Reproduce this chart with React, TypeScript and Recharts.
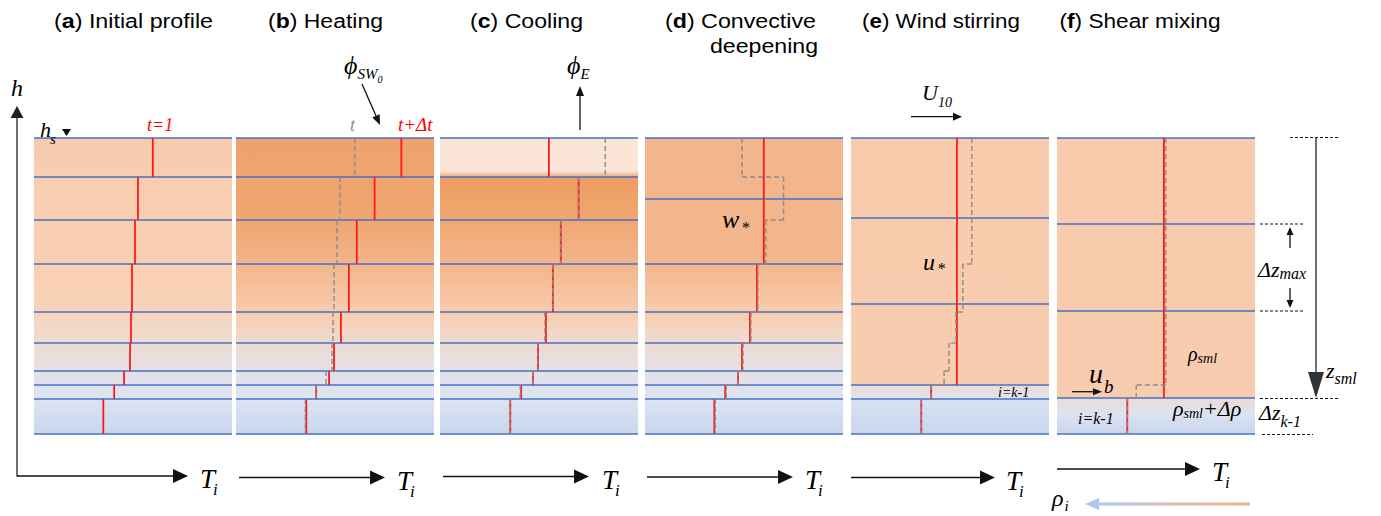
import React from 'react';
import { ComposedChart, XAxis, YAxis, ReferenceArea, ReferenceLine } from 'recharts';

// layer interfaces, depth below surface (m)
const BOUNDS_ABC = [0, 3.9, 8.2, 12.6, 17.4, 20.5, 23.3, 24.7, 26.1, 29.6];
const BOUNDS_D = [0, 6.1, 12.6, 17.4, 20.5, 23.3, 24.7, 26.1, 29.6];
const BOUNDS_E = [0, 8.0, 16.6, 24.7, 26.1, 29.6];
const BOUNDS_F = [0, 8.6, 17.3, 26.0, 29.6];

// layer temperatures, surface layer first
const TEMP_A = [12.0, 10.5, 10.2, 9.9, 9.8, 9.7, 9.1, 8.1, 7.0];
const TEMP_B = [16.7, 14.0, 12.2, 11.4, 10.6, 9.9, 9.4, 8.1, 7.1];
const TEMP_C = [11.0, 14.0, 12.2, 11.4, 10.7, 9.9, 9.4, 8.2, 7.1];
const TEMP_D = [12.0, 12.0, 11.3, 10.6, 9.8, 9.4, 8.1, 7.0];
const TEMP_E = [10.7, 10.7, 10.7, 8.1, 7.1];
const TEMP_F = [10.8, 10.8, 10.8, 7.1];

// profile of the previous step (grey dashed)
const PREV_D = [9.8, 14.0, 12.2, 11.4, 10.7, 9.9, 9.4, 8.2, 7.1];
const PREV_E_BOUNDS = [0, 12.6, 17.4, 20.5, 23.3, 24.7, 26.1, 29.6];
const PREV_E = [12.2, 11.3, 10.6, 9.9, 9.4, 8.1, 7.1];
const PREV_F_BOUNDS = [0, 24.7, 26.0, 29.6];
const PREV_F = [11.0, 8.0, 7.1];

const LOWER = [[0.69, '#EEDBD2'], [0.79, '#E4E0E6'], [0.88, '#DCE4F2'], [1, '#C8D6EE']];

const PANELS = [
  { key: 'a', left: 34, bounds: BOUNDS_ABC, temps: TEMP_A, prev: null, prevBounds: null, stepped: false,
    stops: [[0, '#F8CBAD'], [0.55, '#F9D1B6'], ...LOWER] },
  { key: 'b', left: 236, bounds: BOUNDS_ABC, temps: TEMP_B, prev: TEMP_A, prevBounds: BOUNDS_ABC, stepped: false,
    stops: [[0, '#EFA26B'], [0.28, '#F0A670'], [0.43, '#F3B68C'], [0.59, '#F8CCAE'], ...LOWER] },
  { key: 'c', left: 440, bounds: BOUNDS_ABC, temps: TEMP_C, prev: TEMP_B, prevBounds: BOUNDS_ABC, stepped: false,
    stops: [[0, '#EE9C62'], [0.13, '#EE9C62'], [0.28, '#F0A771'], [0.43, '#F3B68C'], [0.59, '#F8CCAE'], ...LOWER] },
  { key: 'd', left: 645, bounds: BOUNDS_D, temps: TEMP_D, prev: PREV_D, prevBounds: BOUNDS_ABC, stepped: true,
    stops: [[0, '#F3B58B'], [0.426, '#F3B68C'], [0.59, '#F8CCAE'], ...LOWER] },
  { key: 'e', left: 851, bounds: BOUNDS_E, temps: TEMP_E, prev: PREV_E, prevBounds: PREV_E_BOUNDS, stepped: true,
    stops: [[0, '#F8CBAD'], [0.83, '#F8CCAE'], [0.836, '#EEDAD3'], [0.878, '#DFE3EF'], [0.884, '#D9E2F3'], [1, '#C8D5EE']] },
  { key: 'f', left: 1057, bounds: BOUNDS_F, temps: TEMP_F, prev: PREV_F, prevBounds: PREV_F_BOUNDS, stepped: true,
    stops: [[0, '#F8CBAD'], [0.874, '#F8CCAE'], [0.88, '#EBDAD6'], [0.93, '#DCE3F2'], [1, '#C9D6EE']] },
];

const Panel = ({ p }: any) => {
  const bottom = p.bounds[p.bounds.length - 1];
  const prevSegs: any[] = [];
  if (p.prev) {
    p.prev.forEach((t: number, i: number) => {
      prevSegs.push([{ x: t, y: p.prevBounds[i] }, { x: t, y: p.prevBounds[i + 1] }]);
      if (p.stepped && i < p.prev.length - 1) {
        prevSegs.push([{ x: t, y: p.prevBounds[i + 1] }, { x: p.prev[i + 1], y: p.prevBounds[i + 1] }]);
      }
    });
  }
  return (
    <div style={{ position: 'absolute', left: p.left, top: 136 }}>
      <ComposedChart width={198} height={302} margin={{ top: 2, right: 0, bottom: 0, left: 0 }} data={[{ t: 0, z: 0 }]}>
        <defs>
          <linearGradient id={`bg-${p.key}`} x1="0" y1="0" x2="0" y2="1">
            {p.stops.map(([o, c]: any) => <stop key={o} offset={o} stopColor={c} />)}
          </linearGradient>
          <linearGradient id="shade-c" x1="0" y1="0" x2="0" y2="1">
            <stop offset={0} stopColor="#FBE5D6" />
            <stop offset={1} stopColor="#E9A77C" />
          </linearGradient>
        </defs>
        <XAxis type="number" dataKey="t" domain={[0, 20]} hide allowDataOverflow />
        <YAxis type="number" dataKey="z" domain={[0, 30]} reversed hide allowDataOverflow />
        <ReferenceArea y1={0} y2={bottom} fill={`url(#bg-${p.key})`} fillOpacity={1} stroke="none" />
        {p.key === 'c' && <ReferenceArea y1={0} y2={3.3} fill="#FBE5D6" fillOpacity={1} stroke="none" />}
        {p.key === 'c' && <ReferenceArea y1={3.3} y2={3.9} fill="url(#shade-c)" fillOpacity={1} stroke="none" />}
        {p.bounds.map((b: number) => (
          <ReferenceLine key={`b${b}`} y={b} stroke="#4472C4" strokeWidth={1.6} />
        ))}
        {p.temps.map((t: number, i: number) => (
          <ReferenceLine key={`r${i}`} segment={[{ x: t, y: p.bounds[i] }, { x: t, y: p.bounds[i + 1] }]}
            stroke="#FF1A1A" strokeWidth={1.8} />
        ))}
        {prevSegs.map((s, i) => (
          <ReferenceLine key={`p${i}`} segment={s} stroke="#8C8C8C" strokeWidth={1.4} strokeDasharray="5 3" />
        ))}
      </ComposedChart>
    </div>
  );
};

const Arrow = ({ x1, y1, x2, y2, head = 12, w = 5, color = '#111', sw = 1.3 }: any) => {
  const dx = x2 - x1, dy = y2 - y1, L = Math.hypot(dx, dy), ux = dx / L, uy = dy / L;
  const bx = x2 - ux * head, by = y2 - uy * head;
  return (
    <g>
      <line x1={x1} y1={y1} x2={bx} y2={by} stroke={color} strokeWidth={sw} />
      <polygon points={`${x2},${y2} ${bx - uy * w},${by + ux * w} ${bx + uy * w},${by - ux * w}`} fill={color} />
    </g>
  );
};

const SERIF = "'Liberation Serif', 'Times New Roman', serif";

// italic math label; sub = [text, size, dy, dx]
const M = ({ x, y, s, c = '#000', children, sub, anchor = 'start' }: any) => (
  <text x={x} y={y} fontSize={s} fill={c} fontFamily={SERIF} fontStyle="italic" textAnchor={anchor}>
    {children}
    {sub && sub.map(([t, fs, dy, dx]: any, i: number) => (
      <tspan key={i} fontSize={fs} dy={dy} dx={dx || 0}>{t}</tspan>
    ))}
  </text>
);

const TITLES = [
  { l: 'a', t: ' Initial profile', x: 133.5, len: 159, anchor: 'middle' },
  { l: 'b', t: ' Heating', x: 325.5, len: 115, anchor: 'middle' },
  { l: 'c', t: ' Cooling', x: 526.5, len: 113, anchor: 'middle' },
  { l: 'd', t: ' Convective', x: 816, len: 151, anchor: 'end' },
  { l: 'e', t: ' Wind stirring', x: 941, len: 158, anchor: 'middle' },
  { l: 'f', t: ' Shear mixing', x: 1140, len: 161, anchor: 'middle' },
];

const AXES = [
  { x1: 17, x2: 188, y: 476, tx: 200 },
  { x1: 239, x2: 385, y: 477.5, tx: 397 },
  { x1: 443, x2: 589, y: 476.5, tx: 602 },
  { x1: 647, x2: 793, y: 477, tx: 805 },
  { x1: 851, x2: 995, y: 477.5, tx: 1006 },
  { x1: 1057, x2: 1200, y: 469, tx: 1212 },
];

const Overlay = () => (
  <svg width={1381} height={516} style={{ position: 'absolute', left: 0, top: 0, pointerEvents: 'none' }}>
    <defs>
      <linearGradient id="rho" gradientUnits="userSpaceOnUse" x1="1098" y1="0" x2="1250" y2="0">
        <stop offset={0} stopColor="#B4C7E7" />
        <stop offset={1} stopColor="#F4B183" />
      </linearGradient>
    </defs>
    {TITLES.map((t) => (
      <text key={t.l} x={t.x} y={28} fontSize={20} fontFamily="'Liberation Sans', Arial, sans-serif"
        textAnchor={t.anchor} textLength={t.len} lengthAdjust="spacingAndGlyphs">
        (<tspan fontWeight="bold">{t.l}</tspan>){t.t}
      </text>
    ))}
    <text x={818} y={53} fontSize={20} fontFamily="'Liberation Sans', Arial, sans-serif" textAnchor="end"
      textLength={108} lengthAdjust="spacingAndGlyphs">deepening</text>

    {/* h axis */}
    <Arrow x1={17} y1={476.6} x2={17} y2={106} head={12} w={6.5} color="#222" />
    <M x={17} y={96} s={24} anchor="middle">h</M>
    <M x={40} y={137} s={22} sub={[['s', 15, 7, -1]]}>h</M>
    <polygon points="62,129 71,129 66.5,136" fill="#111" />

    {AXES.map((a, i) => (
      <g key={i}>
        <Arrow x1={a.x1} y1={a.y} x2={a.x2} y2={a.y} head={15} w={7} color="#111" />
        <M x={a.tx} y={a.y + 12} s={27} sub={[['i', 17, 7, -2]]}>T</M>
      </g>
    ))}
    <M x={1052} y={506} s={24} sub={[['i', 15, 5, 1]]}>ρ</M>
    <line x1={1098} y1={504} x2={1250} y2={504} stroke="url(#rho)" strokeWidth={3} />
    <polygon points="1085,504 1099,498 1099,510" fill="#B4C7E7" />

    {/* time labels */}
    <M x={147} y={131} s={18} c="#FF0000">t=1</M>
    <M x={350} y={131} s={18} c="#8C8C8C">t</M>
    <M x={398} y={131} s={19} c="#FF0000">t+Δt</M>

    {/* fluxes */}
    <M x={344} y={74} s={26} sub={[['SW', 15, 5, 0], ['0', 10, 4, 0]]}>ϕ</M>
    <Arrow x1={362} y1={84} x2={380} y2={125} head={10} w={4} />
    <M x={567} y={74} s={26} sub={[['E', 15, 5, 0]]}>ϕ</M>
    <Arrow x1={580} y1={130} x2={580} y2={86} head={10} w={4} />
    <M x={922} y={100} s={22} sub={[['10', 14, 7, 0]]}>U</M>
    <Arrow x1={911} y1={116.7} x2={962} y2={116.7} head={9} w={4} />

    {/* in-panel labels */}
    <M x={722} y={228} s={26} sub={[['*', 16, 5, 2]]}>w</M>
    <M x={923} y={270} s={24} sub={[['*', 16, 4, 2]]}>u</M>
    <M x={998} y={397} s={14}>i=k-1</M>
    <M x={1188} y={361} s={20} sub={[['sml', 14, 2, 0]]}>ρ</M>
    <M x={1089} y={383} s={28} sub={[['b', 19, 10, 1]]}>u</M>
    <Arrow x1={1072} y1={391.7} x2={1102} y2={391.7} head={9} w={3.5} />
    <M x={1078} y={424} s={16}>i=k-1</M>
    <M x={1173} y={416} s={22} sub={[['sml', 14, 2, 0], ['+Δρ', 22, -2, 0]]}>ρ</M>

    {/* depth annotations */}
    <g stroke="#111" strokeWidth={1} strokeDasharray="3 2">
      <line x1={1290} y1={137.5} x2={1338} y2={137.5} />
      <line x1={1260} y1={224} x2={1305} y2={224} />
      <line x1={1260} y1={311} x2={1305} y2={311} />
      <line x1={1260} y1={398.5} x2={1340} y2={398.5} />
      <line x1={1262} y1={434.5} x2={1313} y2={434.5} />
    </g>
    <Arrow x1={1316} y1={138} x2={1316} y2={398} head={26} w={8} color="#333" sw={1.4} />
    <Arrow x1={1290} y1={248} x2={1290} y2={227} head={8} w={3.5} />
    <Arrow x1={1290} y1={288} x2={1290} y2={308} head={8} w={3.5} />
    <M x={1258} y={277} s={22} sub={[['max', 16, 2, 0]]}>Δz</M>
    <M x={1326} y={378} s={22} sub={[['sml', 16, 6, 0]]}>z</M>
    <M x={1259} y={420} s={22} sub={[['k-1', 16, 7, 0]]}>Δz</M>
  </svg>
);

export default function App() {
  return (
    <div style={{ position: 'absolute', left: 0, top: 0, width: 1381, height: 516, background: '#fff' }}>
      {PANELS.map((p) => <Panel key={p.key} p={p} />)}
      <Overlay />
    </div>
  );
}
